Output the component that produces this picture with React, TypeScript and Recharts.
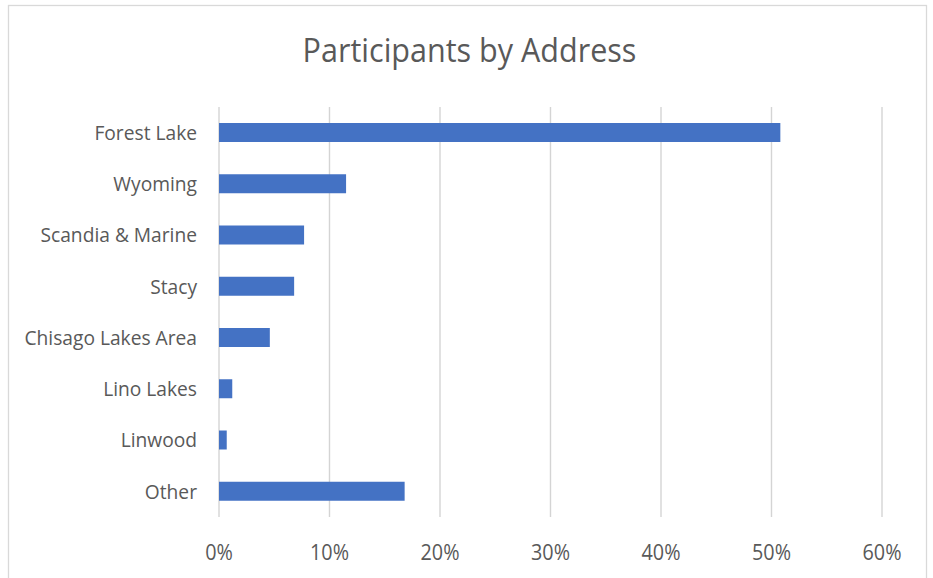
import React from 'react';
import { BarChart, Bar, XAxis, YAxis, CartesianGrid } from 'recharts';

const categories = ['Forest Lake', 'Wyoming', 'Scandia & Marine', 'Stacy', 'Chisago Lakes Area', 'Lino Lakes', 'Linwood', 'Other'];
const shares = [0.508, 0.115, 0.077, 0.068, 0.046, 0.012, 0.007, 0.168];
const xTicks = [0, 0.1, 0.2, 0.3, 0.4, 0.5, 0.6];
const title = 'Participants by Address';

const data = categories.map((name, i) => ({ name, value: shares[i] }));

const FONT = "'Open Sans', sans-serif";
const TEXT = '#595959';

const YTick = (props: any) => {
  const { x, y, payload } = props;
  return (
    <g transform={`translate(${x - 22},${y})`}>
      <text transform="scale(0.96,1)" textAnchor="end" dy="0.36em" fill={TEXT} fontSize={20} fontFamily={FONT}>
        {payload.value}
      </text>
    </g>
  );
};

const XTick = (props: any) => {
  const { x, y, payload } = props;
  return (
    <g transform={`translate(${x},${y})`}>
      <text transform="scale(0.9,1)" textAnchor="middle" dy={43} fill={TEXT} fontSize={22} fontFamily={FONT}>
        {`${Math.round(payload.value * 100)}%`}
      </text>
    </g>
  );
};

export default function App() {
  return (
    <div style={{ position: 'absolute', left: 0, top: 0, width: 933, height: 578, background: '#fff', overflow: 'hidden' }}>
      <BarChart
        width={933}
        height={578}
        data={data}
        layout="vertical"
        margin={{ top: 107, right: 51, bottom: 0, left: 19 }}
      >
        <CartesianGrid horizontal={false} stroke="#d4d4d4" strokeWidth={1.4} />
        <XAxis
          type="number"
          domain={[0, 0.6]}
          ticks={xTicks}
          axisLine={false}
          tickLine={false}
          tickSize={0}
          tickMargin={0}
          height={61}
          tick={<XTick />}
          interval={0}
        />
        <YAxis
          type="category"
          dataKey="name"
          width={200}
          axisLine={false}
          tickLine={false}
          tickSize={0}
          tickMargin={0}
          tick={<YTick />}
          interval={0}
        />
        <Bar dataKey="value" fill="#4472C4" barSize={19} isAnimationActive={false} />
      </BarChart>
      <svg width={933} height={578} style={{ position: 'absolute', left: 0, top: 0, pointerEvents: 'none' }}>
        <rect x={8.5} y={5.5} width={918} height={600} fill="none" stroke="#d9d9d9" strokeWidth={1.3} />
        <g transform="translate(469.5,61.7)">
          <text transform="scale(0.955,1)" textAnchor="middle" fill={TEXT} fontSize={32} fontFamily={FONT}>
            {title}
          </text>
        </g>
      </svg>
    </div>
  );
}
